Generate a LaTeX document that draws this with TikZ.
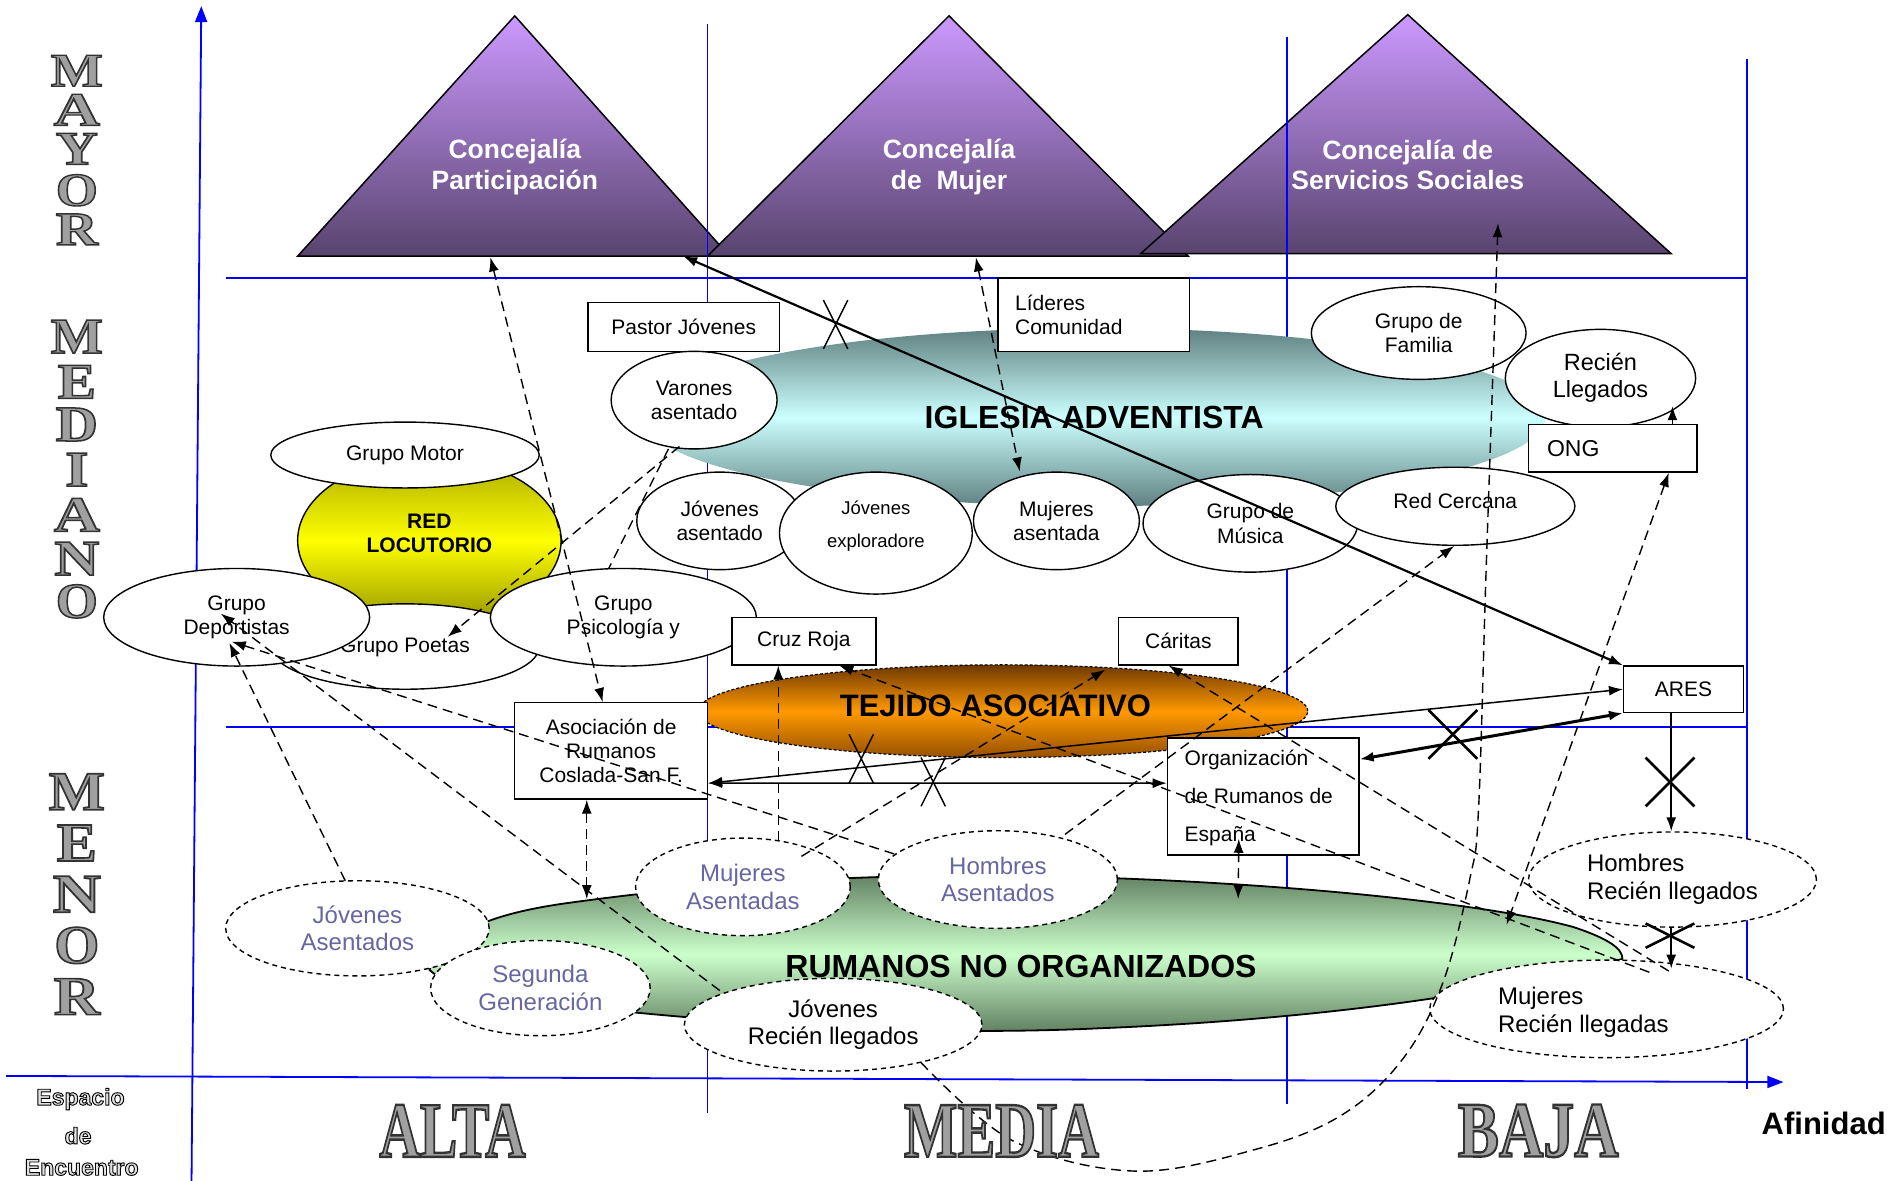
\documentclass[tikz,border=0pt]{standalone}
\usepackage{graphicx}
\usepackage{fontspec}
\setmainfont{Liberation Sans}
\newfontfamily\metalfont{Liberation Serif Bold}[FakeBold=3]
\newfontfamily\espfont{Liberation Sans Bold}[FakeBold=4]
\usetikzlibrary{shapes.geometric,arrows.meta,calc}

\definecolor{gridblue}{RGB}{0,0,255}
\definecolor{triTop}{RGB}{204,153,255}
\definecolor{triBot}{RGB}{88,68,110}
\definecolor{tealEdge}{RGB}{95,128,128}
\definecolor{tealMid}{RGB}{204,255,255}
\definecolor{yelTop}{RGB}{170,170,0}
\definecolor{yelMid}{RGB}{255,255,0}
\definecolor{yelBot}{RGB}{150,150,0}
\definecolor{orTop}{RGB}{110,56,0}
\definecolor{orMid}{RGB}{255,153,0}
\definecolor{orBot}{RGB}{150,80,0}
\definecolor{grTop}{RGB}{95,125,95}
\definecolor{grMid}{RGB}{204,255,204}
\definecolor{grBot}{RGB}{90,120,90}
\definecolor{slate}{RGB}{102,102,160}
\definecolor{metal}{RGB}{160,160,160}
\definecolor{espfill}{RGB}{225,225,225}

\newcommand{\metalw}[5]{%
  \node[inner sep=0pt] (#1) at (#2) {\resizebox{#3}{#4}{\color{metal}%
    \special{pdf:literal direct 0.2 0.2 0.2 RG}\metalfont #5}};}
\newcommand{\embossed}[3]{%
  \node[inner sep=0pt, font=\fontsize{23}{23}\espfont] (#1) at (#2)
    {\color{espfill}\special{pdf:literal direct 0 0 0 RG}#3};}

\begin{document}
\begin{tikzpicture}[x=1.2199pt, y=-1.2199pt,
  >={Latex[length=14pt,width=10pt]},
  ell/.style 2 args={ellipse, draw, fill=white, line width=1.4pt,
    minimum width={#1*2.4398pt}, minimum height={#2*2.4398pt},
    inner sep=0pt, align=center, font=\fontsize{21}{24.4}\selectfont},
  dell/.style 2 args={ell={#1}{#2}, dash pattern=on 5pt off 4pt,
    font=\fontsize{24}{27.5}\selectfont},
  rbox/.style 2 args={rectangle, draw, fill=white, line width=1.4pt,
    minimum width={#1*1.2199pt}, minimum height={#2*1.2199pt},
    inner sep=0pt, align=center, font=\fontsize{21}{24.4}\selectfont},
  lbl/.style={inner sep=0pt, align=center, font=\fontsize{21}{24.4}\selectfont},
  tri/.style={inner sep=0pt, align=center, text=white,
    font=\fontsize{26.5}{30.5}\selectfont\bfseries},
  conn/.style={line width=1.5pt},
  dconn/.style={line width=1.4pt, dash pattern=on 10pt off 6pt},
  xmark/.style={line width=1.4pt},
  bigx/.style={line width=2.6pt},
  gline/.style={gridblue, line width=1.8pt},
]
\fill[white] (0,0) rectangle (1560,968);
\useasboundingbox (0,0) rectangle (1560,968);

% ---------- triangles ----------
\path[draw, line width=1.5pt, top color=triTop, bottom color=triBot]
  (244,210) -- (422,13) -- (598,210) -- cycle;
\path[draw, line width=1.5pt, top color=triTop, bottom color=triBot]
  (580,210) -- (778,13) -- (974,210) -- cycle;
\path[draw, line width=1.5pt, top color=triTop, bottom color=triBot]
  (935,208) -- (1154,12) -- (1370,208) -- cycle;
\node[tri] (t1) at (422,137) {Concejalía\\Participación};
\node[tri] (t2) at (778,137) {Concejalía\\de\ \ Mujer};
\node[tri] (t3) at (1154,135) {Concejalía de\\Servicios Sociales};
\coordinate (t1b) at (402,211);
\coordinate (t1r) at (560,210);
\coordinate (t2b) at (800,211);
\coordinate (t3b) at (1228,183);

% ---------- grid and axes ----------
\draw[gline] (580,20) -- (580,912);
\draw[gline] (1055,30) -- (1055,905);
\draw[gline] (1432,48) -- (1432,893);
\draw[gline] (185,228) -- (1432,228);
\draw[gline] (185,596) -- (1432,596);
\draw[gline, -{Triangle[length=16pt,width=12pt]}] (157,970) -- (165,5);
\draw[gline, -{Triangle[length=16pt,width=12pt]}] (5,882) -- (1462,887);

% ---------- Iglesia Adventista ----------
\node[ellipse, minimum width={740*1.2199pt}, minimum height={146*1.2199pt},
  top color=tealEdge, bottom color=tealEdge, middle color=tealMid, inner sep=0pt,
  font=\fontsize{32}{32}\selectfont\bfseries] (iglesia) at (897,342) {IGLESIA ADVENTISTA};
\node[rbox={157}{60}] (lideres) at (896.5,258) {};
\node[lbl, anchor=west, align=left] (lideresT) at (832,258) {Líderes\\Comunidad};
\node[rbox={157}{40}] (pastor) at (560.5,268) {Pastor Jóvenes};
\node[ell={88}{38}] (familia) at (1163,273) {Grupo de\\Familia};
\node[ell={78}{40}, font=\fontsize{23.5}{27}\selectfont] (recien) at (1312,310) {Recién\\Llegados};
\node[rbox={138}{39}] (ong) at (1322,367.5) {};
\node[lbl, anchor=west, font=\fontsize{23}{24}\selectfont] (ongT) at (1268,368) {ONG};
\node[ell={68}{40}] (varones) at (569,328) {Varones\\asentado};
\node[ell={68}{40}] (jasent) at (590,427) {Jóvenes\\asentado};
\node[ell={79}{50}] (jexpl) at (718,437) {};
\node[lbl, font=\fontsize{18.5}{33}\selectfont] (jexplT) at (718,431) {Jóvenes\\exploradore};
\node[ell={68}{40}] (mujasent) at (866,427) {Mujeres\\asentada};
\node[ell={88}{40}] (musica) at (1025,429) {Grupo de\\Música};
\node[ell={98}{32}] (redcerc) at (1193,415) {};
\node[lbl] (redcercT) at (1193,411) {Red Cercana};

% ---------- Red Locutorio cluster ----------
\node[ellipse, draw, line width=1.4pt, minimum width={216*1.2199pt}, minimum height={136*1.2199pt},
  top color=yelTop, bottom color=yelBot, middle color=yelMid, inner sep=0pt] (locut) at (352,443) {};
\node[lbl, font=\fontsize{21}{24.4}\selectfont\bfseries] (locutT) at (352,437) {RED\\LOCUTORIO};
\node[ell={110}{27}] (motor) at (332,373) {Grupo Motor};
\node[ell={110}{35}] (poetas) at (332,530) {};
\node[lbl] (poetasT) at (332,531) {Grupo Poetas};
\node[ell={109}{40}] (deport) at (194,506) {Grupo\\Deportistas};
\node[ell={109}{40}] (psico) at (511,506) {Grupo\\Psicología y};

% ---------- Tejido asociativo ----------
\node[ellipse, draw, dash pattern=on 3pt off 2pt, line width=1.2pt,
  minimum width={500*1.2199pt}, minimum height={76*1.2199pt},
  top color=orTop, bottom color=orBot, middle color=orMid, inner sep=0pt] (tejido) at (822,583) {};
\node[inner sep=0pt, font=\fontsize{31}{31}\selectfont\bfseries] (tejidoT) at (816,579) {TEJIDO ASOCIATIVO};
\node[rbox={118}{39}] (cruzroja) at (659,525.5) {Cruz Roja};
\node[rbox={98}{39}] (caritas) at (966,525.5) {Cáritas};
\node[rbox={158}{79}] (asoc) at (501,615.5) {Asociación de\\Rumanos\\Coslada-San F.};
\node[rbox={157}{96}] (org) at (1035.5,653) {};
\node[lbl, anchor=west, align=left, font=\fontsize{21}{38}\selectfont] (orgT) at (971,654) {Organización\\de Rumanos de\\España};
\node[rbox={98}{38}] (ares) at (1380,565) {ARES};

% ---------- Rumanos no organizados ----------
\path[draw, line width=1.8pt, top color=grTop, bottom color=grBot, middle color=grMid]
  (352,795) .. controls (365,765) and (400,750) .. (460,741)
  .. controls (560,727) and (650,720) .. (760,718)
  .. controls (950,715) and (1200,735) .. (1290,760)
  .. controls (1320,770) and (1330,778) .. (1330,786)
  .. controls (1250,810) and (1100,835) .. (900,843)
  .. controls (750,850) and (600,838) .. (500,828)
  .. controls (420,820) and (370,812) .. cycle;
\node[inner sep=0pt, font=\fontsize{32}{32}\selectfont\bfseries] (rumanosT) at (837,792) {RUMANOS NO ORGANIZADOS};
\coordinate (g1) at (1235,758);
\coordinate (g2) at (481,737);
\coordinate (g3) at (1015,737);

\node[dell={108}{39}, text=slate] (jasentados) at (293,761) {Jóvenes\\Asentados};
\node[dell={90}{39}, text=slate] (segunda) at (443,810) {Segunda\\Generación};
\node[dell={88}{40}, text=slate] (mujasentadas) at (609,727) {Mujeres\\Asentadas};
\node[dell={98}{40}, text=slate] (hombasent) at (818,721) {Hombres\\Asentados};
\node[dell={122}{38}] (jovrl) at (683,840) {Jóvenes\\Recién llegados};
\node[dell={118}{39}, align=left] (hombrl) at (1371,721) {Hombres\\Recién llegados};
\node[dell={145}{40}] (mujrl) at (1317,827) {};
\node[lbl, align=left, font=\fontsize{24}{27.5}\selectfont] (mujrlT) at (1298,830) {Mujeres\\Recién llegadas};

% ---------- solid connectors ----------
\draw[conn, line width=2.2pt, <->] (t1r) -- (ares.north west);
\draw[conn, <->] ($(asoc.east)+(0,26.5)$) -- ($(org.west)+(0,-11)$);
\draw[conn, <->] ($(asoc.east)+(0,26.5)$) -- (ares.west);
\draw[conn, line width=3pt, <->] ($(org.north east)+(0,18)$) -- (ares.south west);
\draw[conn, ->] ($(ares.south)+(-10,0)$) -- ($(hombrl.north)+(-1,0)$);
\draw[conn, ->] ($(hombrl.south)+(-1,0)$) -- ($(mujrl.center)+(53,-33)$);
\draw[conn, ->] ($(ong.north)+(49,0)$) -- ($(recien.center)+(59,23)$);

% ---------- dashed connectors ----------
\draw[dconn, <->] (t1b) -- ($(asoc.north)+(-7,0)$);
\draw[dconn, <->] (t2b) -- ($(mujasent.north)+(-30,0)$);
\draw[dconn, ->] plot[smooth, tension=0.6] coordinates {($(jovrl)+(72,31)$) (830,935) (930,960) (1030,942) (1100,914) (1150,868) (1183,805) (1205,720) (1212,664) (1218,475) (1224,300) (t3b)};
\draw[dconn, <->] ($(ong.south)+(46,0)$) -- (g1);
\draw[dconn, ->] ($(hombasent)+(55,-37)$) -- ($(redcerc.south)+(-1,0)$);
\draw[dconn, ->] ($(mujasentadas)+(48,-25)$) -- ($(tejido)+(84,-34)$);
\draw[dconn, ->] ($(mujasentadas)+(29,-38)$) -- ($(cruzroja.south)+(-21,0)$);
\draw[dconn, ->] ($(mujrl)+(35,-30)$) -- ($(cruzroja.south)+(29,0)$);
\draw[dconn, ->] ($(mujrl)+(51,-31)$) -- ($(caritas.south)+(-8,0)$);
\draw[dconn, ->] ($(jasentados)+(-10,-39)$) -- ($(deport)+(-6,21)$);
\draw[dconn, ->] ($(hombasent)+(-85,-21)$) -- ($(deport)+(-4,20)$);
\draw[dconn, ->] ($(jovrl)+(-93,-28)$) -- ($(deport)+(-13,-3)$);
\draw[dconn, ->] ($(varones)+(-12,38)$) -- ($(poetas)+(35,-8)$);
\draw[dconn] ($(varones)+(-21,40)$) -- ($(psico)+(-12,-40)$);
\draw[dconn, <->] ($(asoc.south)+(-20,0)$) -- (g2);
\draw[dconn, <->] ($(org.south)+(-20,-14)$) -- (g3);

% ---------- X marks ----------
\coordinate (xa) at (685,266);
\coordinate (xb) at (706,622);
\coordinate (xc) at (765,641);
\coordinate (xd) at (1191,602);
\coordinate (xe) at (1369,641);
\coordinate (xf) at (1369,767);
\draw[xmark] ($(xa)+(-10,-20)$) -- ($(xa)+(10,20)$) ($(xa)+(10,-20)$) -- ($(xa)+(-10,20)$);
\draw[xmark] ($(xb)+(-10,-20)$) -- ($(xb)+(10,20)$) ($(xb)+(10,-20)$) -- ($(xb)+(-10,20)$);
\draw[xmark] ($(xc)+(-10,-20)$) -- ($(xc)+(10,20)$) ($(xc)+(10,-20)$) -- ($(xc)+(-10,20)$);
\draw[bigx] ($(xd)+(-20,-20)$) -- ($(xd)+(20,20)$) ($(xd)+(20,-20)$) -- ($(xd)+(-20,20)$);
\draw[bigx] ($(xe)+(-20,-20)$) -- ($(xe)+(20,20)$) ($(xe)+(20,-20)$) -- ($(xe)+(-20,20)$);
\draw[bigx] ($(xf)+(-20,-10)$) -- ($(xf)+(20,10)$) ($(xf)+(20,-10)$) -- ($(xf)+(-20,10)$);

% ---------- metal lettering ----------
\metalw{ma1}{63,58}{52pt}{31pt}{M}
\metalw{ma2}{63,90}{46pt}{31pt}{A}
\metalw{ma3}{63,122}{42pt}{31pt}{Y}
\metalw{ma4}{63,156}{42pt}{31pt}{O}
\metalw{ma5}{63,188}{42pt}{31pt}{R}
\metalw{me1}{63,276}{52pt}{33pt}{M}
\metalw{me2}{63,313}{38pt}{33pt}{E}
\metalw{me3}{63,348}{42pt}{33pt}{D}
\metalw{me4}{63,385}{23pt}{33pt}{I}
\metalw{me5}{63,422}{46pt}{33pt}{A}
\metalw{me6}{63,458}{45pt}{33pt}{N}
\metalw{me7}{63,493}{42pt}{33pt}{O}
\metalw{mn1}{63,649}{56pt}{36pt}{M}
\metalw{mn2}{63,691}{40pt}{36pt}{E}
\metalw{mn3}{63,733}{48pt}{36pt}{N}
\metalw{mn4}{63,775}{45pt}{36pt}{O}
\metalw{mn5}{63,817}{46pt}{36pt}{R}
\metalw{alta}{371,927}{146pt}{52pt}{ALTA}
\metalw{media}{821,927}{195pt}{52pt}{MEDIA}
\metalw{baja}{1261,927}{161pt}{52pt}{BAJA}
\embossed{esp1}{66,901}{Espacio}
\embossed{esp2}{64,931}{de}
\embossed{esp3}{67,957}{Encuentro}
\node[inner sep=0pt, font=\fontsize{31}{31}\selectfont\bfseries] (afin) at (1495,921) {Afinidad};
\end{tikzpicture}
\end{document}
